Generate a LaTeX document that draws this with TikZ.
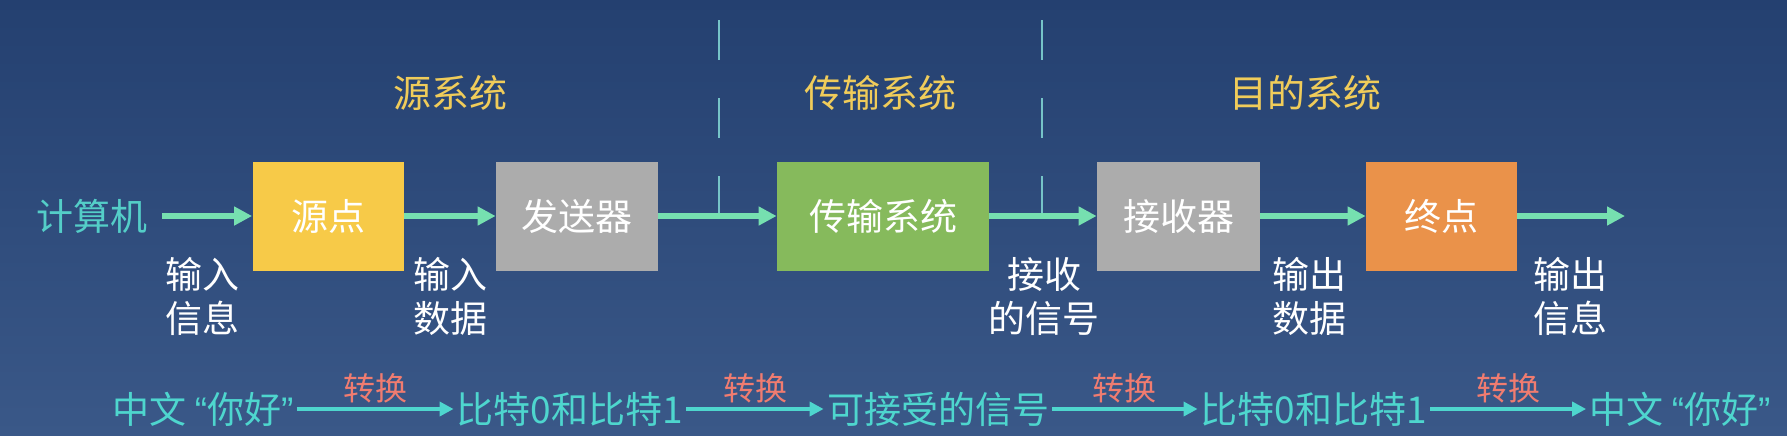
\documentclass[tikz,border=0pt]{standalone}
\usepackage{fontspec}
\setmainfont{Noto Sans CJK SC}
\newfontfamily\quotefont{Liberation Sans}
\usetikzlibrary{arrows.meta}

\definecolor{bgtop}{RGB}{36,64,112}
\definecolor{bgbot}{RGB}{58,88,136}
\definecolor{srcyellow}{RGB}{247,202,72}
\definecolor{sendgray}{RGB}{172,172,172}
\definecolor{transgreen}{RGB}{134,186,92}
\definecolor{endorange}{RGB}{234,146,74}
\definecolor{flowmint}{RGB}{118,224,176}
\definecolor{titleyellow}{RGB}{240,204,90}
\definecolor{pccyan}{RGB}{84,206,200}
\definecolor{msgcyan}{RGB}{78,214,206}
\definecolor{convred}{RGB}{240,124,112}
\definecolor{dashcyan}{RGB}{118,196,200}

\newcommand{\hello}{中文 {\quotefont “}你好{\quotefont ”}}

\tikzset{
  box/.style={minimum height=54.5pt,inner sep=0pt,text=white,font=\fontsize{18.5}{22}\selectfont},
  systitle/.style={text=titleyellow,font=\fontsize{19}{22}\selectfont},
  iolabel/.style={text=white,align=center,inner sep=0pt,font=\fontsize{18.5}{22}\selectfont},
  msgtext/.style={text=msgcyan,inner sep=1.5pt,font=\fontsize{18.5}{22}\selectfont},
  flow/.style={draw=flowmint,line width=3pt,-{Triangle[length=9pt,width=9pt]}},
  conv/.style={draw=msgcyan,line width=2pt,-{Triangle[length=7pt,width=7pt]}},
  convlabel/.style={text=convred,inner sep=1pt,font=\fontsize{16}{18}\selectfont}
}

\begin{document}
\begin{tikzpicture}[x=0.5pt,y=0.5pt,yscale=-1,xscale=1]
%Background
\shade[top color=bgtop,bottom color=bgbot] (0,0) rectangle (1787,435);

%Dashed dividers
\draw[dashcyan,line width=1pt,dash pattern=on 20pt off 19pt] (719,20) -- (719,217);
\draw[dashcyan,line width=1pt,dash pattern=on 20pt off 19pt] (1042,20) -- (1042,217);

% Text Node
\node[systitle] (srctitle) at (450,93) {源系统};
\node[systitle] (transtitle) at (880,93) {传输系统};
\node[systitle] (dsttitle) at (1305,93) {目的系统};

%Shape: Boxes
\node[box,fill=srcyellow,minimum width=75.5pt] (src) at (328,216) {源点};
\node[box,fill=sendgray,minimum width=81pt] (send) at (577,216) {发送器};
\node[box,fill=transgreen,minimum width=106pt] (trans) at (883,216) {传输系统};
\node[box,fill=sendgray,minimum width=81.5pt] (recv) at (1178.5,216) {接收器};
\node[box,fill=endorange,minimum width=75.5pt] (dest) at (1441.5,216) {终点};

% Text Node
\node[msgtext,text=pccyan,inner sep=0pt] (pc) at (92,216) {计算机};
\coordinate (out) at (1625,216);

%Straight Lines
\draw[flow,shorten <=7pt] (pc.east) -- (src.west);
\draw[flow] (src.east) -- (send.west);
\draw[flow] (send.east) -- (trans.west);
\draw[flow] (trans.east) -- (recv.west);
\draw[flow] (recv.east) -- (dest.west);
\draw[flow] (dest.east) -- (out);

% Text Node
\node[iolabel] (ininfo) at (202,296) {输入\\信息};
\node[iolabel] (indata) at (450,296) {输入\\数据};
\node[iolabel] (rxsig) at (1044,296) {接收\\的信号};
\node[iolabel] (outdata) at (1309,296) {输出\\数据};
\node[iolabel] (outinfo) at (1570,296) {输出\\信息};

% Text Node
\node[msgtext] (msga) at (203,409) {\hello};
\node[msgtext] (msgb) at (570,409) {比特0和比特1};
\node[msgtext] (msgc) at (938,409) {可接受的信号};
\node[msgtext] (msgd) at (1314,409) {比特0和比特1};
\node[msgtext] (msge) at (1680,409) {\hello};

%Straight Lines
\draw[conv] (msga) -- node[convlabel,above=1pt] {转换} (msgb);
\draw[conv] (msgb) -- node[convlabel,above=1pt] {转换} (msgc);
\draw[conv] (msgc) -- node[convlabel,above=1pt] {转换} (msgd);
\draw[conv] (msgd) -- node[convlabel,above=1pt] {转换} (msge);

\end{tikzpicture}
\end{document}
